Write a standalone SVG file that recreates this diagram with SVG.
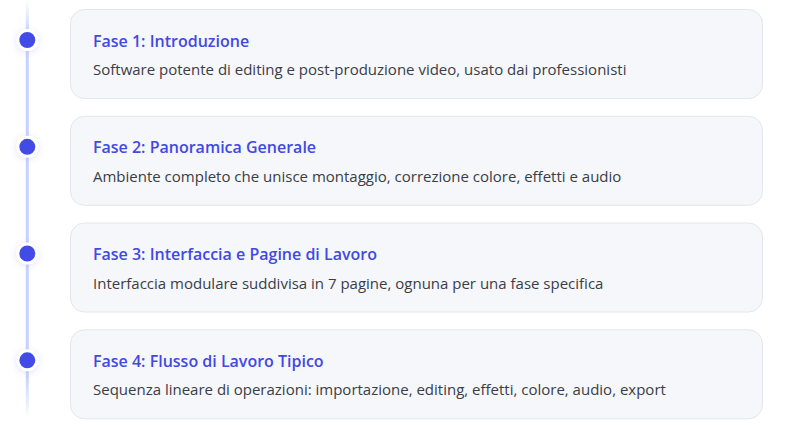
<svg xmlns="http://www.w3.org/2000/svg" width="789" height="425" viewBox="0 0 789 425">
<defs>
<linearGradient id="lineGrad" x1="0" y1="0" x2="0" y2="1">
<stop offset="0" stop-color="#c7d2fe" stop-opacity="0"/>
<stop offset="0.08" stop-color="#c7d2fe" stop-opacity="1"/>
<stop offset="0.9" stop-color="#c7d2fe" stop-opacity="1"/>
<stop offset="1" stop-color="#c7d2fe" stop-opacity="0"/>
</linearGradient>
<filter id="glow" x="-100%" y="-100%" width="300%" height="300%">
<feDropShadow dx="0" dy="1" stdDeviation="3" flood-color="#6366f1" flood-opacity="0.2"/>
</filter>
</defs>
<style>
.card{fill:#f6f7fb;stroke:#e4e6ec;stroke-width:1}
.dot{fill:#434ce6;stroke:#ffffff;stroke-width:3}
.title{font-family:"Open Sans","Noto Sans",sans-serif;font-size:16px;font-weight:600;fill:#4149e4}
.desc{font-family:"Open Sans","Noto Sans",sans-serif;font-size:15px;fill:#3a3d45}
</style>
<rect width="789" height="425" fill="#ffffff"/>
<g id="connectors">
<rect x="25.8" y="0" width="3" height="418" fill="url(#lineGrad)"/>
</g>
<g id="node1">
<rect class="card" x="70.5" y="9.5" width="692" height="89" rx="14"/>
<circle class="dot" cx="27.3" cy="40" r="9.5" filter="url(#glow)"/>
<text class="title" x="93" y="46.5">Fase 1: Introduzione</text>
<text class="desc" x="93" y="75">Software potente di editing e post-produzione video, usato dai professionisti</text>
</g>
<g id="node2">
<rect class="card" x="70.5" y="116.3" width="692" height="89" rx="14"/>
<circle class="dot" cx="27.3" cy="146.8" r="9.5" filter="url(#glow)"/>
<text class="title" x="93" y="153.3">Fase 2: Panoramica Generale</text>
<text class="desc" x="93" y="181.8">Ambiente completo che unisce montaggio, correzione colore, effetti e audio</text>
</g>
<g id="node3">
<rect class="card" x="70.5" y="223" width="692" height="89" rx="14"/>
<circle class="dot" cx="27.3" cy="253.5" r="9.5" filter="url(#glow)"/>
<text class="title" x="93" y="260">Fase 3: Interfaccia e Pagine di Lavoro</text>
<text class="desc" x="93" y="288.5">Interfaccia modulare suddivisa in 7 pagine, ognuna per una fase specifica</text>
</g>
<g id="node4">
<rect class="card" x="70.5" y="329.8" width="692" height="89" rx="14"/>
<circle class="dot" cx="27.3" cy="360.3" r="9.5" filter="url(#glow)"/>
<text class="title" x="93" y="366.8">Fase 4: Flusso di Lavoro Tipico</text>
<text class="desc" x="93" y="395.3">Sequenza lineare di operazioni: importazione, editing, effetti, colore, audio, export</text>
</g>
</svg>
